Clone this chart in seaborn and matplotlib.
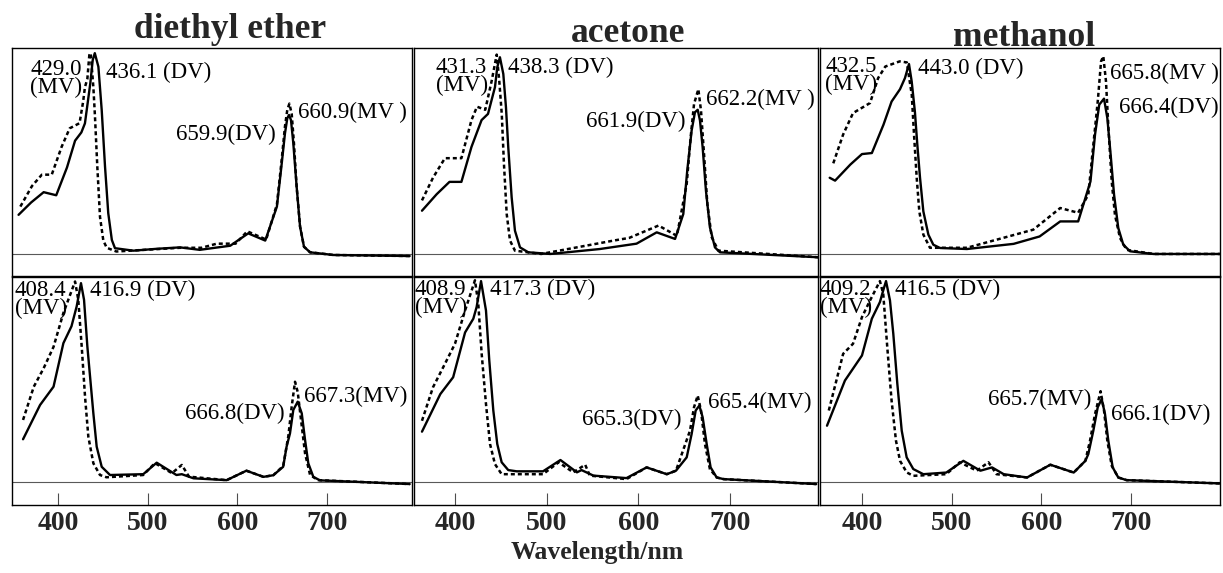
import matplotlib
matplotlib.use("Agg")
import matplotlib.pyplot as plt
import seaborn as sns

# solvents (columns) and wavelength ticks
solvents = ["diethyl ether", "acetone", "methanol"]
xticks = [400, 500, 600, 700]

# --- top row spectra (absorbance normalised to panel height) ---
ether_a_dv_wl = [356, 370, 384, 398, 410, 419, 426, 430, 436, 438.7, 441, 445, 448.7, 452.4, 456, 460, 463.5, 484, 510, 536, 558, 592, 612, 631, 644, 649, 653, 655.6, 657.5, 659.7, 662.3, 666, 669.8, 674.2, 681, 707, 792]
ether_a_dv = [0.19, 0.25, 0.30, 0.285, 0.42, 0.55, 0.59, 0.634, 0.829, 0.942, 0.975, 0.909, 0.699, 0.424, 0.198, 0.068, 0.028, 0.016, 0.025, 0.032, 0.02, 0.04, 0.10, 0.065, 0.23, 0.424, 0.586, 0.659, 0.675, 0.65, 0.537, 0.327, 0.133, 0.035, 0.008, -0.005, -0.01]
ether_a_mv_wl = [358, 371, 382, 393, 404, 413, 424, 428, 430, 432.7, 434.9, 436.4, 439.4, 441.2, 443.8, 446.8, 450.5, 454.3, 465, 536, 560, 577, 598, 611, 632, 644, 649.3, 653, 655.6, 657.9, 660.5, 663, 666, 669.8, 674.2, 681, 707, 792]
ether_a_mv = [0.23, 0.33, 0.385, 0.385, 0.52, 0.61, 0.635, 0.74, 0.81, 0.85, 0.966, 0.975, 0.81, 0.667, 0.424, 0.18, 0.065, 0.03, 0.012, 0.03, 0.03, 0.05, 0.05, 0.11, 0.07, 0.24, 0.456, 0.62, 0.70, 0.73, 0.68, 0.537, 0.327, 0.133, 0.035, 0.008, -0.005, -0.01]

acetone_a_dv_wl = [364, 380, 394, 407, 418, 429, 436, 443.6, 446.1, 449, 452.7, 455.6, 458.1, 461.8, 465.4, 470.9, 480, 504, 558, 598, 620, 640, 649, 653.3, 658.1, 661.7, 664.7, 667.2, 670.1, 673.7, 678, 683.5, 689, 796]
acetone_a_dv = [0.21, 0.29, 0.35, 0.35, 0.52, 0.65, 0.68, 0.81, 0.906, 0.955, 0.874, 0.712, 0.518, 0.275, 0.113, 0.032, 0.008, 0.0, 0.024, 0.05, 0.105, 0.073, 0.194, 0.405, 0.60, 0.688, 0.70, 0.648, 0.518, 0.307, 0.13, 0.032, 0.008, -0.016]
acetone_a_mv_wl = [364, 376, 389, 407, 418, 424, 433, 440, 445.5, 448.3, 451, 453.4, 456.4, 460, 465.4, 494, 573, 590, 622, 642, 652.7, 657, 660.7, 665.4, 668.3, 671.6, 675.2, 680, 687.2, 796]
acetone_a_mv = [0.26, 0.37, 0.465, 0.465, 0.65, 0.715, 0.70, 0.84, 0.968, 0.84, 0.68, 0.437, 0.194, 0.065, 0.016, 0.0, 0.065, 0.078, 0.138, 0.088, 0.34, 0.566, 0.728, 0.80, 0.696, 0.485, 0.243, 0.081, 0.016, -0.016]

methanol_a_dv_wl = [364, 370, 387, 400, 411, 424, 433, 442.4, 447.9, 452.4, 455.4, 459, 461.7, 464.7, 468.4, 474, 479.5, 487, 517, 569, 598, 621, 641, 654.7, 659.8, 664.5, 669.8, 673.5, 677.2, 681, 685.7, 691.3, 698.8, 725, 800]
methanol_a_dv = [0.37, 0.356, 0.434, 0.485, 0.49, 0.628, 0.74, 0.80, 0.854, 0.922, 0.838, 0.69, 0.53, 0.37, 0.207, 0.094, 0.045, 0.029, 0.024, 0.049, 0.085, 0.158, 0.158, 0.352, 0.58, 0.725, 0.754, 0.66, 0.482, 0.288, 0.126, 0.045, 0.013, 0.0, 0.0]
methanol_a_mv_wl = [368, 379, 390, 409, 418, 426, 442, 450, 455.5, 458, 461, 463.9, 468.4, 475.8, 517, 591, 621, 641, 652.3, 657.9, 663, 666.5, 669, 672, 674.7, 678.4, 682, 687.6, 695, 725, 800]
methanol_a_mv = [0.44, 0.58, 0.684, 0.733, 0.854, 0.91, 0.935, 0.93, 0.773, 0.58, 0.37, 0.207, 0.094, 0.03, 0.03, 0.118, 0.223, 0.20, 0.288, 0.53, 0.749, 0.935, 0.96, 0.838, 0.613, 0.352, 0.19, 0.078, 0.02, 0.0, 0.0]

# --- bottom row spectra ---
ether_b_dv_wl = [361, 380, 395, 406, 415, 420.8, 425.6, 429, 432.7, 439.4, 443.1, 448.7, 458, 495, 510, 532, 538, 551, 588, 610, 629, 640, 651, 654.8, 658.6, 662.3, 667.2, 671.7, 675.4, 679, 684.6, 692, 792]
ether_b_dv = [0.21, 0.377, 0.466, 0.678, 0.76, 0.857, 0.97, 0.889, 0.662, 0.336, 0.174, 0.076, 0.036, 0.04, 0.096, 0.036, 0.04, 0.02, 0.011, 0.057, 0.027, 0.035, 0.076, 0.174, 0.239, 0.353, 0.393, 0.336, 0.206, 0.093, 0.027, 0.01, -0.008]
ether_b_mv_wl = [361, 373, 384, 395, 406, 419, 422.6, 426.4, 430.1, 433.8, 439.4, 446.8, 454, 495, 508, 527, 538, 546, 588, 610, 629, 640, 651, 656.7, 660.5, 664.2, 667.2, 670.9, 675.4, 681, 690, 792]
ether_b_mv = [0.304, 0.466, 0.556, 0.66, 0.825, 0.978, 0.889, 0.662, 0.418, 0.222, 0.093, 0.036, 0.025, 0.036, 0.094, 0.045, 0.085, 0.028, 0.011, 0.057, 0.027, 0.035, 0.08, 0.224, 0.37, 0.49, 0.44, 0.304, 0.141, 0.036, 0.011, -0.008]

acetone_b_dv_wl = [364, 384, 398, 411, 420, 423.6, 428.4, 433.8, 437.4, 441.8, 446.1, 450.9, 458.1, 467.3, 496, 515, 533, 538, 551, 587, 609, 631, 641, 652.7, 658.1, 662.5, 666.5, 670.1, 674.5, 678.8, 685.4, 693, 794]
acetone_b_dv = [0.247, 0.43, 0.512, 0.73, 0.797, 0.854, 0.98, 0.837, 0.594, 0.35, 0.187, 0.098, 0.06, 0.054, 0.054, 0.109, 0.049, 0.06, 0.033, 0.021, 0.073, 0.04, 0.057, 0.122, 0.236, 0.35, 0.374, 0.317, 0.187, 0.073, 0.024, 0.016, -0.008]
acetone_b_mv_wl = [364, 376, 389, 400, 411, 421.8, 425.4, 429.1, 433.8, 438.2, 443.6, 450.9, 496, 513, 529, 542, 547, 587, 609, 631, 641, 656.3, 660.7, 664.7, 668.3, 672.6, 678, 685.4, 693, 794]
acetone_b_mv = [0.30, 0.463, 0.577, 0.675, 0.837, 0.984, 0.87, 0.626, 0.382, 0.187, 0.089, 0.04, 0.04, 0.098, 0.049, 0.086, 0.033, 0.016, 0.073, 0.04, 0.057, 0.252, 0.366, 0.423, 0.35, 0.187, 0.065, 0.024, 0.016, -0.008]

methanol_b_dv_wl = [361, 381, 400, 411, 420, 423.7, 426.8, 431.2, 434.9, 439.4, 444.3, 449.8, 457.2, 468.4, 494, 513, 532, 545, 558, 584, 610, 636, 649, 652.3, 657.9, 662.8, 667.2, 670.9, 674.6, 679.5, 685.7, 695, 799]
methanol_b_dv = [0.276, 0.496, 0.618, 0.797, 0.878, 0.935, 0.98, 0.886, 0.724, 0.48, 0.252, 0.122, 0.065, 0.04, 0.048, 0.105, 0.057, 0.073, 0.04, 0.024, 0.086, 0.048, 0.105, 0.138, 0.252, 0.366, 0.406, 0.333, 0.203, 0.073, 0.024, 0.011, -0.005]
methanol_b_mv_wl = [363, 379, 390, 400, 409, 420, 423.7, 428.2, 433, 437.9, 442.4, 449.8, 457, 494, 509, 528, 541, 550, 584, 610, 636, 649, 654.2, 659.8, 666, 669.8, 673.5, 678.4, 685.7, 695, 799]
methanol_b_mv = [0.35, 0.626, 0.675, 0.805, 0.886, 0.98, 0.918, 0.658, 0.398, 0.203, 0.105, 0.049, 0.032, 0.04, 0.098, 0.057, 0.098, 0.04, 0.024, 0.086, 0.048, 0.105, 0.203, 0.333, 0.444, 0.35, 0.203, 0.081, 0.024, 0.011, -0.005]

# peak labels per panel
labels_a = [
    ["429.0\n(MV)", "436.1 (DV)", "659.9(DV)", "660.9(MV )"],
    ["431.3\n(MV)", "438.3 (DV)", "661.9(DV)", "662.2(MV )"],
    ["432.5\n(MV)", "443.0 (DV)", "665.8(MV )", "666.4(DV)"],
]
labels_b = [
    ["408.4\n(MV)", "416.9 (DV)", "666.8(DV)", "667.3(MV)"],
    ["408.9\n(MV)", "417.3 (DV)", "665.3(DV)", "665.4(MV)"],
    ["409.2\n(MV)", "416.5 (DV)", "665.7(MV)", "666.1(DV)"],
]

spectra = [
    [(ether_a_dv_wl, ether_a_dv, ether_a_mv_wl, ether_a_mv),
     (acetone_a_dv_wl, acetone_a_dv, acetone_a_mv_wl, acetone_a_mv),
     (methanol_a_dv_wl, methanol_a_dv, methanol_a_mv_wl, methanol_a_mv)],
    [(ether_b_dv_wl, ether_b_dv, ether_b_mv_wl, ether_b_mv),
     (acetone_b_dv_wl, acetone_b_dv, acetone_b_mv_wl, acetone_b_mv),
     (methanol_b_dv_wl, methanol_b_dv, methanol_b_mv_wl, methanol_b_mv)],
]

# label placement (x, y, ha) in data coords, same order as the labels
label_pos = [
    [[(427, 0.945, "right"), (454, 0.933, "left"), (531, 0.634, "left"), (668, 0.74, "left")],
     [(436, 0.955, "right"), (458, 0.955, "left"), (543, 0.696, "left"), (674, 0.80, "left")],
     [(359, 0.96, "left"), (463, 0.95, "left"), (676, 0.927, "left"), (686, 0.765, "left")]],
    [[(352, 0.985, "left"), (436, 0.985, "left"), (542, 0.385, "left"), (674, 0.47, "left")],
     [(356, 0.99, "left"), (438, 0.99, "left"), (538, 0.358, "left"), (676, 0.44, "left")],
     [(353, 0.99, "left"), (437, 0.99, "left"), (541, 0.455, "left"), (678, 0.382, "left")]],
]

sns.set_theme(style="white")
plt.rcParams["font.family"] = ["Liberation Serif", "DejaVu Serif"]

W, H = 1223, 573
fig = plt.figure(figsize=(W / 100, H / 100), dpi=100)

col_px = [(12, 412), (414, 818), (820, 1220)]
row_px = [(48, 276), (277, 505)]
xlims = [(348.7, 794.6), (355.3, 795.9), (353.2, 799.1)]
ylims = [(-0.107, 1.0), (-0.11, 1.0)]

for r in range(2):
    for c in range(3):
        x0, x1 = col_px[c]
        y0, y1 = row_px[r]
        ax = fig.add_axes([x0 / W, 1 - y1 / H, (x1 - x0) / W, (y1 - y0) / H])
        dv_wl, dv, mv_wl, mv = spectra[r][c]
        sns.lineplot(x=dv_wl, y=dv, ax=ax, color="black", lw=1.7, sort=False, estimator=None)
        sns.lineplot(x=mv_wl, y=mv, ax=ax, color="black", lw=1.8, sort=False, estimator=None,
                     linestyle=(0, (1.6, 1.2)))
        ax.axhline(0, color="0.35", lw=0.8, zorder=0)
        ax.set_xlim(*xlims[c])
        ax.set_ylim(*ylims[r])
        ax.set_yticks([])
        ax.set_xlabel("")
        ax.set_ylabel("")
        for s in ax.spines.values():
            s.set_color("black")
            s.set_linewidth(1.0)
        if r == 1:
            ax.set_xticks(xticks)
            ax.set_xticklabels([str(t) for t in xticks], fontsize=20, fontweight="bold")
            ax.tick_params(axis="x", direction="in", length=9, width=0.8, color="0.3",
                           pad=4, bottom=True)
        else:
            ax.set_xticks([])
        labs = labels_a[c] if r == 0 else labels_b[c]
        for txt, (lx, ly, ha) in zip(labs, label_pos[r][c]):
            ax.text(lx, ly, txt, ha=ha, va="top", fontsize=16.5, linespacing=0.78,
                    multialignment="left", color="black")

# column titles
title_px = [(230, 29), (628, 34), (1024, 37)]
for name, (tx, ty) in zip(solvents, title_px):
    fig.text(tx / W, 1 - ty / H, name, ha="center", va="center", fontsize=25.5, fontweight="bold")

fig.text(597 / W, 1 - 553 / H, "Wavelength/nm", ha="center", va="center", fontsize=18.5,
         fontweight="bold")

fig.savefig("out.png", dpi=100)
